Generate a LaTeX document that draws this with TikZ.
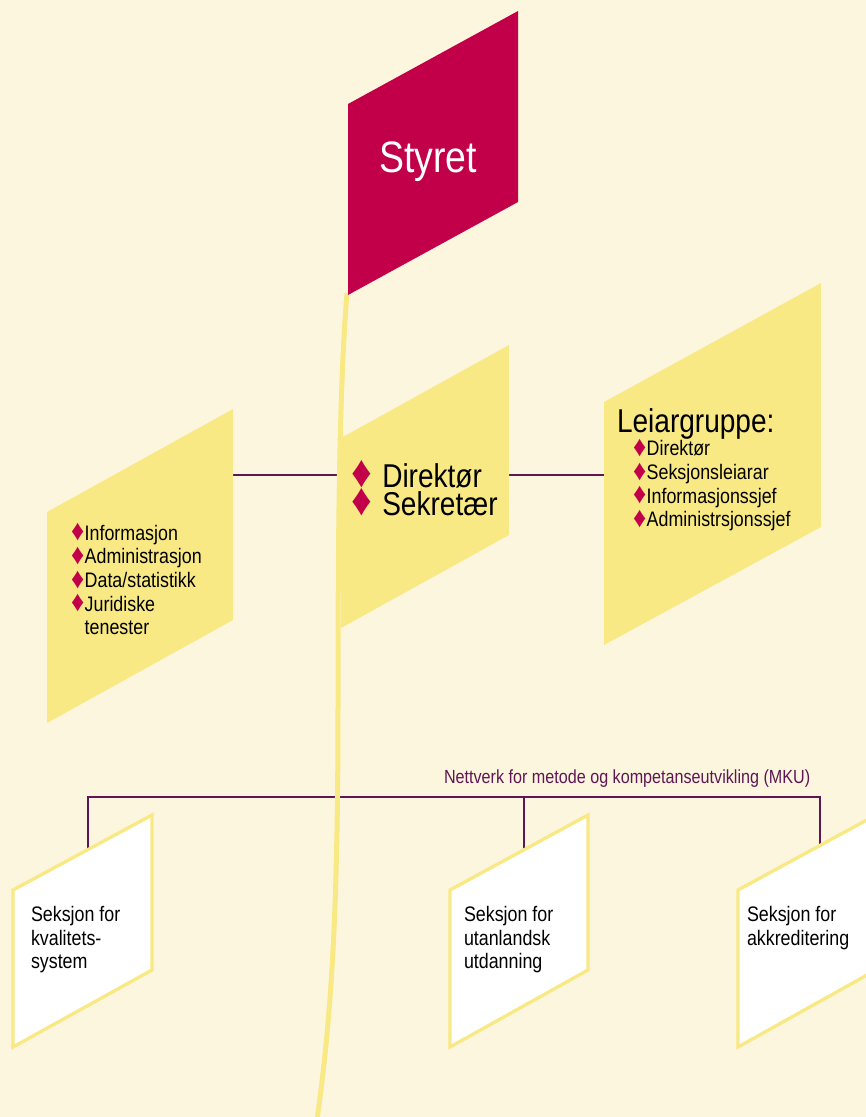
\documentclass[tikz,border=0pt]{standalone}
\usepackage{fontspec}
\setmainfont{Liberation Sans}[FakeStretch=0.85]
\usetikzlibrary{calc}
\definecolor{bg}{RGB}{253,246,222}
\definecolor{ylw}{RGB}{248,233,133}
\definecolor{crim}{RGB}{194,0,74}
\definecolor{purp}{RGB}{94,23,84}
\newcommand{\dia}{\textcolor{crim}{\raisebox{-0.03em}{\scalebox{1.45}[1.38]{♦}}}\hspace{0.5pt}}
\newcommand{\fsz}[2]{\fontsize{#1}{#2}\selectfont}
\newcommand{\lstack}[2]{\vtop{\baselineskip=#1\lineskiplimit=-100pt\relax #2}}
\begin{document}
\begin{tikzpicture}[x=1pt,y=-1pt,
  ybox/.style={fill=ylw},
  wbox/.style={fill=white,draw=ylw,line width=3.3pt,line join=miter},
  link/.style={draw=purp,line width=1.4pt},
  txt/.style={anchor=base west,inner sep=0pt,outer sep=0pt,text=black},
  stem/.style={draw=ylw,line width=5pt}]
\useasboundingbox (0,0) rectangle (866,1117);
\clip (0,0) rectangle (866,1117);
\fill[bg] (0,0) rectangle (866,1117);

% connector points
\coordinate (lR) at (233,475);
\coordinate (cL) at (341,475);
\coordinate (cR) at (509,475);
\coordinate (rL) at (604,475);
\coordinate (m1) at (88,849.5);
\coordinate (m2) at (524,849.8);
\coordinate (m3) at (820,845.4);
\coordinate (mb1) at (88,797);
\coordinate (mb2) at (524,797);
\coordinate (mb3) at (820,797);
\coordinate (stemtop) at (347,293);
\coordinate (stembot) at (317,1120);

% connectors
\draw[link] (lR) -- (cL);
\draw[link] (cR) -- (rL);
\draw[link,line join=miter] (m1) -- (mb1) -- (mb3) -- (m3);
\draw[link] (mb2) -- (m2);

% yellow boxes
\fill[ybox] (47,512) -- (233,409) -- (233,620) -- (47,723) -- cycle;
\fill[ybox] (341,438) -- (509,345) -- (509,535) -- (341,628) -- cycle;
\fill[ybox] (604,402) -- (821,283) -- (821,527) -- (604,645) -- cycle;

% white boxes
\draw[wbox] (13,890) -- (152,815) -- (152,970) -- (13,1047) -- cycle;
\draw[wbox] (450,890) -- (588,815) -- (588,970) -- (450,1047) -- cycle;
\draw[wbox] (738,890) -- (876,815) -- (876,970) -- (738,1047) -- cycle;

% stem
\draw[stem] (stemtop) .. controls (340,380) and (338,500) .. (338,700)
  .. controls (338,880) and (334,1000) .. (stembot);

% Styret
\fill[crim] (348,104) -- (518,11) -- (518,202) -- (348,295) -- cycle;
\node[txt,anchor=base,text=white,font=\fsz{44}{50}] (styret) at (428,172) {Styret};

% texts
\node[txt,font=\fsz{33}{28}] (dir) at (351,487)
  {\lstack{28pt}{\hbox{\dia\hspace{10pt}Direktør}\hbox{\dia\hspace{10pt}Sekretær}}};
\node[txt,font=\fsz{21}{24}] (lft) at (71,540)
  {\lstack{23.7pt}{\hbox{\dia Informasjon}\hbox{\dia Administrasjon}\hbox{\dia Data/statistikk}\hbox{\dia Juridiske}\hbox{\phantom{\dia}tenester}}};
\node[txt,font=\fsz{33}{36}] (lg) at (617,432) {Leiargruppe:};
\node[txt,font=\fsz{21}{24}] (lgl) at (633,455.7)
  {\lstack{23.7pt}{\hbox{\dia Direktør}\hbox{\dia Seksjonsleiarar}\hbox{\dia Informasjonssjef}\hbox{\dia Administrsjonssjef}}};
\node[txt,font=\fsz{19}{22},text=purp] (net) at (444,783) {Nettverk for metode og kompetanseutvikling (MKU)};
\node[txt,font=\fsz{21}{24}] (s1) at (31,921.7)
  {\lstack{23.5pt}{\hbox{Seksjon for}\hbox{kvalitets-}\hbox{system}}};
\node[txt,font=\fsz{21}{24}] (s2) at (464,921.7)
  {\lstack{23.5pt}{\hbox{Seksjon for}\hbox{utanlandsk}\hbox{utdanning}}};
\node[txt,font=\fsz{21}{24}] (s3) at (747,921.7)
  {\lstack{23.5pt}{\hbox{Seksjon for}\hbox{akkreditering}}};
\end{tikzpicture}
\end{document}
